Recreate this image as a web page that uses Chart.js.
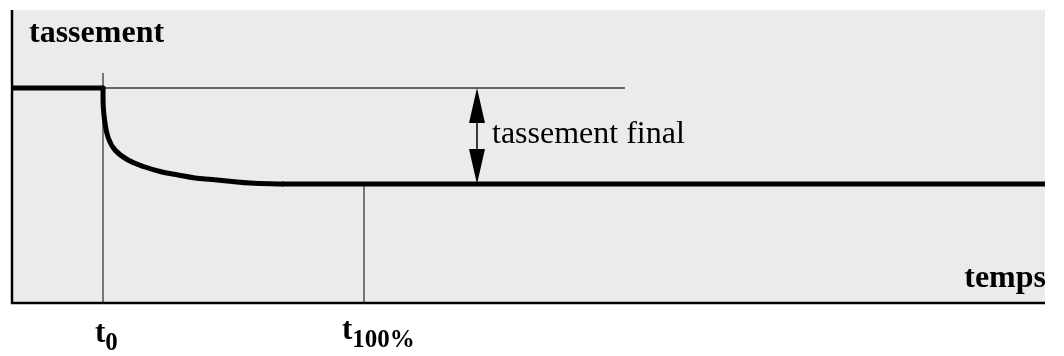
<!DOCTYPE html>
<html>
<head>
<meta charset="utf-8">
<script src="https://cdn.jsdelivr.net/npm/chart.js@4/dist/chart.umd.min.js"></script>
<style>
  html, body { margin: 0; padding: 0; background: #ffffff; }
  #wrap { width: 1064px; height: 356px; }
</style>
</head>
<body>
<div id="wrap"><canvas id="c" width="1064" height="356"></canvas></div>
<script>
// ---- data (time in arbitrary units, settlement level above the time axis) ----
const plateauTime  = [0, 91];
const plateauLevel = [215, 215];
const decayTime    = [91, 91.3, 93, 96.3, 103, 116, 133, 150, 166, 183, 200, 220, 238, 271];
const decayLevel   = [215, 196, 180, 165, 153, 143, 136, 131, 128, 125, 123.5, 121.5, 120, 119];
const finalTime    = [271, 1033];
const finalLevelSeries = [119, 119];
const t0 = 91;
const t100 = 352;
const initialLevel = 215;
const finalLevel = 119;
const t0LineTop = 230;
const refLineEnd = 613;
const arrowTime = 465;
const xTitle = 'temps';
const yTitle = 'tassement';
const annotationText = 'tassement final';
const t0Label = ['t', '0'];
const t100Label = ['t', '100%'];

const pts = (xs, ys) => xs.map((x, i) => ({ x: x, y: ys[i] }));

const thick = { borderColor: '#000', borderWidth: 5, pointRadius: 0, fill: false,
                borderCapStyle: 'round', borderJoinStyle: 'round' };
const thin = { borderColor: '#3a3a3a', borderWidth: 1.3, pointRadius: 0, fill: false, tension: 0 };

const decor = {
  id: 'decor',
  beforeDraw(chart) {
    const { ctx, chartArea: a } = chart;
    ctx.save();
    ctx.fillStyle = '#ebebeb';
    ctx.fillRect(a.left, a.top, a.right - a.left, a.bottom - a.top);
    ctx.restore();
  },
  afterDraw(chart) {
    const { ctx, chartArea: a, scales } = chart;
    const xs = scales.x, ys = scales.y;
    ctx.save();
    // axes
    ctx.strokeStyle = '#000';
    ctx.lineWidth = 2.5;
    ctx.beginPath();
    ctx.moveTo(a.left, a.top);
    ctx.lineTo(a.left, a.bottom);
    ctx.lineTo(a.right, a.bottom);
    ctx.stroke();
    // double arrow
    const ax = xs.getPixelForValue(arrowTime);
    const yTop = ys.getPixelForValue(initialLevel);
    const yBot = ys.getPixelForValue(finalLevel);
    const hw = 8, hl = 35;
    ctx.lineWidth = 1.5;
    ctx.beginPath();
    ctx.moveTo(ax, yTop + hl - 2);
    ctx.lineTo(ax, yBot - hl + 2);
    ctx.stroke();
    ctx.fillStyle = '#000';
    ctx.beginPath();
    ctx.moveTo(ax, yTop);
    ctx.lineTo(ax - hw, yTop + hl);
    ctx.lineTo(ax + hw, yTop + hl);
    ctx.closePath();
    ctx.fill();
    ctx.beginPath();
    ctx.moveTo(ax, yBot);
    ctx.lineTo(ax - hw, yBot - hl);
    ctx.lineTo(ax + hw, yBot - hl);
    ctx.closePath();
    ctx.fill();
    // texts
    ctx.fillStyle = '#000';
    ctx.textBaseline = 'alphabetic';
    ctx.font = 'bold 32px "Liberation Serif", serif';
    ctx.textAlign = 'left';
    ctx.fillText(yTitle, a.left + 17, a.top + 32);
    ctx.textAlign = 'right';
    ctx.fillText(xTitle, a.right + 1, a.bottom - 16);
    ctx.textAlign = 'left';
    ctx.font = '32px "Liberation Serif", serif';
    ctx.fillText(annotationText, ax + 15, (yTop + yBot) / 2 + 7);
    // subscripted time labels
    const sub = (parts, px, base) => {
      ctx.font = 'bold 31px "Liberation Serif", serif';
      ctx.fillText(parts[0], px, base);
      const w = ctx.measureText(parts[0]).width;
      ctx.font = 'bold 25px "Liberation Serif", serif';
      ctx.fillText(parts[1], px + w, base + 8);
    };
    sub(t0Label, xs.getPixelForValue(t0) - 8, a.bottom + 39);
    sub(t100Label, xs.getPixelForValue(t100) - 22, a.bottom + 36);
    ctx.restore();
  }
};

new Chart(document.getElementById('c'), {
  type: 'line',
  data: {
    datasets: [
      Object.assign({ data: pts(plateauTime, plateauLevel), tension: 0 }, thick),
      Object.assign({ data: pts(decayTime, decayLevel), tension: 0.4 }, thick),
      Object.assign({ data: pts(finalTime, finalLevelSeries), tension: 0 }, thick),
      Object.assign({ data: [{ x: t0, y: initialLevel }, { x: refLineEnd, y: initialLevel }] }, thin),
      Object.assign({ data: [{ x: t0, y: t0LineTop }, { x: t0, y: 0 }] }, thin),
      Object.assign({ data: [{ x: t100, y: finalLevel }, { x: t100, y: 0 }] }, thin)
    ]
  },
  options: {
    responsive: false,
    animation: false,
    devicePixelRatio: 1,
    layout: { padding: { left: 12, right: 19, top: 10, bottom: 53 } },
    plugins: { legend: { display: false }, tooltip: { enabled: false }, title: { display: false } },
    scales: {
      x: { type: 'linear', min: 0, max: 1033, display: false },
      y: { type: 'linear', min: 0, max: 293, display: false }
    }
  },
  plugins: [decor]
});
</script>
</body>
</html>
